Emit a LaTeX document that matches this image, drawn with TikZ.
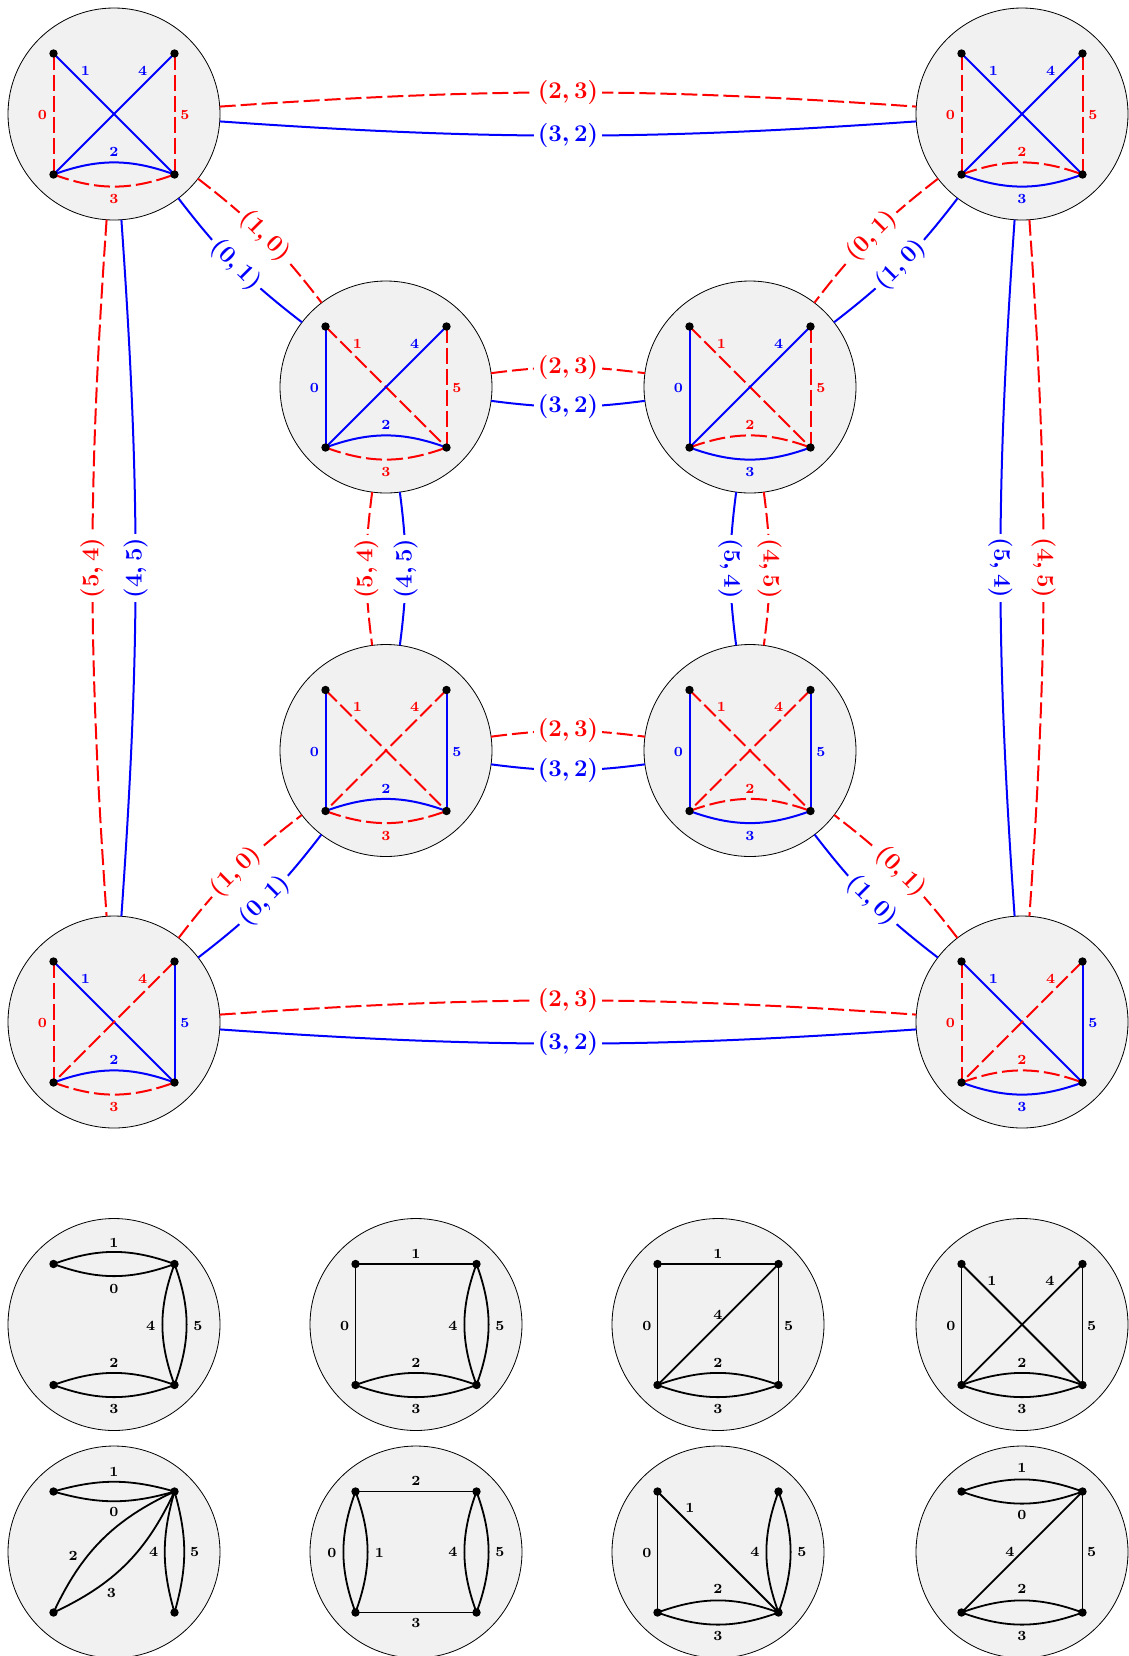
\documentclass[tikz,border=0pt]{standalone}
\usetikzlibrary{calc}
\tikzset{
 gnode/.style={circle, draw=black, line width=0.4pt, fill=black!5.5, minimum size=106pt, inner sep=0pt, outer sep=0pt},
 dot/.style={circle, fill=black, inner sep=0pt, minimum size=4.2pt},
 red edge/.style={red, line width=1pt, dash pattern=on 8pt off 2.5pt},
 blue edge/.style={blue, line width=1pt},
 black edge/.style={black, line width=0.9pt},
 lab/.style={font=\scriptsize\bfseries, inner sep=0pt},
 big/.style={font=\large\boldmath, fill=white, inner sep=2pt, midway},
}
% base circle with four vertex coordinates
\newcommand\gbase[3]{%
 \node[gnode] (#1) at (#2,#3) {};
 \coordinate (#1a) at (#2-60.5,#3-60.5);
 \coordinate (#1b) at (#2+60.5,#3-60.5);
 \coordinate (#1c) at (#2-60.5,#3+60.5);
 \coordinate (#1d) at (#2+60.5,#3+60.5);}
\newcommand\gdots[1]{%
 \foreach \v in {a,b,c,d} {\node[dot] (#1v\v) at (#1\v) {};}}
\newcommand\glab[5][black]{\node[lab,text=#1] (#2-l#5) at ($(#2)+(#3,#4)$) {#5};}
% coloured graph: name, x, y, colours of edges 0,1,4,5,2,3
\newcommand\bigG[9]{%
 \gbase{#1}{#2}{#3}
 \draw[#4 edge] (#1a) -- (#1c);
 \draw[#5 edge] (#1a) -- (#1d);
 \draw[#6 edge] (#1b) -- (#1c);
 \draw[#7 edge] (#1b) -- (#1d);
 \draw[#8 edge] (#1c) to[bend left=20] (#1d);
 \draw[#9 edge] (#1c) to[bend right=20] (#1d);
 \glab[#4]{#1}{-71.7}{1.3}{0}
 \glab[#5]{#1}{-28.5}{-43.5}{1}
 \glab[#6]{#1}{28.7}{-43.5}{4}
 \glab[#7]{#1}{71}{1.3}{5}
 \glab[#8]{#1}{0}{38}{2}
 \glab[#9]{#1}{0}{85}{3}
 \gdots{#1}}
\begin{document}
\begin{tikzpicture}[x=0.5pt,y=-0.5pt]
\useasboundingbox (0,0) rectangle (1129,1656);

% ---------- coloured graphs ----------
\bigG{TL}{114}{114}{red}{blue}{blue}{red}{blue}{red}
\bigG{TR}{1022}{114}{red}{blue}{blue}{red}{red}{blue}
\bigG{ML}{386}{387}{blue}{red}{blue}{red}{blue}{red}
\bigG{MR}{750}{387}{blue}{red}{blue}{red}{red}{blue}
\bigG{NL}{386}{750.5}{blue}{red}{red}{blue}{blue}{red}
\bigG{NR}{750}{750.5}{blue}{red}{red}{blue}{red}{blue}
\bigG{BL}{114}{1022}{red}{blue}{red}{blue}{blue}{red}
\bigG{BR}{1022}{1022}{red}{blue}{red}{blue}{red}{blue}

% ---------- connectors ----------
% outer square
\draw[red edge] (TL) to[bend left=4] node[big,text=red] (c1) {$(2,3)$} (TR);
\draw[blue edge] (TL) to[bend right=4] node[big,text=blue] (c2) {$(3,2)$} (TR);
\draw[red edge] (BL) to[bend left=4] node[big,text=red] (c3) {$(2,3)$} (BR);
\draw[blue edge] (BL) to[bend right=4] node[big,text=blue] (c4) {$(3,2)$} (BR);
\draw[red edge] (TL) to[bend right=4] node[big,text=red,rotate=90] (c5) {$(5,4)$} (BL);
\draw[blue edge] (TL) to[bend left=4] node[big,text=blue,rotate=90] (c6) {$(4,5)$} (BL);
\draw[blue edge] (TR) to[bend right=4] node[big,text=blue,rotate=-90] (c7) {$(5,4)$} (BR);
\draw[red edge] (TR) to[bend left=4] node[big,text=red,rotate=-90] (c8) {$(4,5)$} (BR);
% inner square
\draw[red edge] (ML) to[bend left=7.5] node[big,text=red] (c9) {$(2,3)$} (MR);
\draw[blue edge] (ML) to[bend right=7.5] node[big,text=blue] (c10) {$(3,2)$} (MR);
\draw[red edge] (NL) to[bend left=7.5] node[big,text=red] (c11) {$(2,3)$} (NR);
\draw[blue edge] (NL) to[bend right=7.5] node[big,text=blue] (c12) {$(3,2)$} (NR);
\draw[red edge] (ML) to[bend right=7.5] node[big,text=red,rotate=90] (c13) {$(5,4)$} (NL);
\draw[blue edge] (ML) to[bend left=7.5] node[big,text=blue,rotate=90] (c14) {$(4,5)$} (NL);
\draw[blue edge] (MR) to[bend right=7.5] node[big,text=blue,rotate=-90] (c15) {$(5,4)$} (NR);
\draw[red edge] (MR) to[bend left=7.5] node[big,text=red,rotate=-90] (c16) {$(4,5)$} (NR);
% diagonals
\draw[red edge] (TL) to[bend left=7.5] node[big,text=red,sloped] (c17) {$(1,0)$} (ML);
\draw[blue edge] (TL) to[bend right=7.5] node[big,text=blue,sloped] (c18) {$(0,1)$} (ML);
\draw[red edge] (TR) to[bend right=7.5] node[big,text=red,sloped] (c19) {$(0,1)$} (MR);
\draw[blue edge] (TR) to[bend left=7.5] node[big,text=blue,sloped] (c20) {$(1,0)$} (MR);
\draw[red edge] (BL) to[bend left=7.5] node[big,text=red,sloped] (c21) {$(1,0)$} (NL);
\draw[blue edge] (BL) to[bend right=7.5] node[big,text=blue,sloped] (c22) {$(0,1)$} (NL);
\draw[red edge] (BR) to[bend right=7.5] node[big,text=red,sloped] (c23) {$(0,1)$} (NR);
\draw[blue edge] (BR) to[bend left=7.5] node[big,text=blue,sloped] (c24) {$(1,0)$} (NR);

% ---------- black graphs, row 1 ----------
\gbase{P1}{114}{1324.5}
\draw[black edge] (P1a) to[bend left=20] (P1b);
\draw[black edge] (P1a) to[bend right=20] (P1b);
\draw[black edge] (P1b) to[bend right=20] (P1d);
\draw[black edge] (P1b) to[bend left=20] (P1d);
\draw[black edge] (P1c) to[bend left=20] (P1d);
\draw[black edge] (P1c) to[bend right=20] (P1d);
\glab{P1}{0}{-82}{1}\glab{P1}{0}{-36}{0}\glab{P1}{36.7}{1}{4}\glab{P1}{84}{1}{5}
\glab{P1}{0}{38.8}{2}\glab{P1}{0}{84.5}{3}
\gdots{P1}

\gbase{P2}{416}{1324.5}
\draw[black edge] (P2a) -- (P2b);
\draw[black edge] (P2a) -- (P2c);
\draw[black edge] (P2b) to[bend right=20] (P2d);
\draw[black edge] (P2b) to[bend left=20] (P2d);
\draw[black edge] (P2c) to[bend left=20] (P2d);
\draw[black edge] (P2c) to[bend right=20] (P2d);
\glab{P2}{0}{-71}{1}\glab{P2}{-71.4}{1}{0}\glab{P2}{36.9}{1}{4}\glab{P2}{84}{1}{5}
\glab{P2}{0}{38.8}{2}\glab{P2}{0}{84.5}{3}
\gdots{P2}

\gbase{P3}{718}{1324.5}
\draw[black edge] (P3a) -- (P3b);
\draw[black edge] (P3a) -- (P3c);
\draw[black edge] (P3c) -- (P3b);
\draw[black edge] (P3b) -- (P3d);
\draw[black edge] (P3c) to[bend left=20] (P3d);
\draw[black edge] (P3c) to[bend right=20] (P3d);
\glab{P3}{0}{-71}{1}\glab{P3}{-71}{1}{0}\glab{P3}{0}{-9.5}{4}\glab{P3}{70.6}{1}{5}
\glab{P3}{0}{38.8}{2}\glab{P3}{0}{84.5}{3}
\gdots{P3}

\gbase{P4}{1022}{1324.5}
\draw[black edge] (P4a) -- (P4c);
\draw[black edge] (P4a) -- (P4d);
\draw[black edge] (P4b) -- (P4c);
\draw[black edge] (P4b) -- (P4d);
\draw[black edge] (P4c) to[bend left=20] (P4d);
\draw[black edge] (P4c) to[bend right=20] (P4d);
\glab{P4}{-71}{1}{0}\glab{P4}{-30}{-43.5}{1}\glab{P4}{27.8}{-43.5}{4}\glab{P4}{69.6}{1}{5}
\glab{P4}{0}{38.8}{2}\glab{P4}{0}{84.5}{3}
\gdots{P4}

% ---------- black graphs, row 2 ----------
\gbase{Q1}{114}{1552}
\draw[black edge] (Q1a) to[bend left=16] (Q1b);
\draw[black edge] (Q1a) to[bend right=16] (Q1b);
\draw[black edge] (Q1c) to[bend left=20] (Q1b);
\draw[black edge] (Q1c) to[bend right=20] (Q1b);
\draw[black edge] (Q1b) to[bend right=16] (Q1d);
\draw[black edge] (Q1b) to[bend left=16] (Q1d);
\glab{Q1}{0}{-80}{1}\glab{Q1}{0}{-40}{0}\glab{Q1}{-40.8}{3.5}{2}\glab{Q1}{-2.6}{41}{3}
\glab{Q1}{39.6}{0}{4}\glab{Q1}{80.6}{0}{5}
\gdots{Q1}

\gbase{Q2}{416}{1552}
\draw[black edge] (Q2a) -- (Q2b);
\draw[black edge] (Q2c) -- (Q2d);
\draw[black edge] (Q2a) to[bend right=20] (Q2c);
\draw[black edge] (Q2a) to[bend left=20] (Q2c);
\draw[black edge] (Q2b) to[bend right=20] (Q2d);
\draw[black edge] (Q2b) to[bend left=20] (Q2d);
\glab{Q2}{0}{-71.5}{2}\glab{Q2}{0}{71}{3}\glab{Q2}{-84}{0.5}{0}\glab{Q2}{-36.7}{0.5}{1}
\glab{Q2}{36.9}{0}{4}\glab{Q2}{84}{0}{5}
\gdots{Q2}

\gbase{Q3}{718}{1552}
\draw[black edge] (Q3a) -- (Q3c);
\draw[black edge] (Q3a) -- (Q3d);
\draw[black edge] (Q3b) to[bend right=20] (Q3d);
\draw[black edge] (Q3b) to[bend left=20] (Q3d);
\draw[black edge] (Q3c) to[bend left=20] (Q3d);
\draw[black edge] (Q3c) to[bend right=20] (Q3d);
\glab{Q3}{-71}{0.5}{0}\glab{Q3}{-28}{-44.5}{1}\glab{Q3}{36.8}{0}{4}\glab{Q3}{84}{0}{5}
\glab{Q3}{0}{37}{2}\glab{Q3}{0}{84}{3}
\gdots{Q3}

\gbase{Q4}{1022}{1552}
\draw[black edge] (Q4a) to[bend left=20] (Q4b);
\draw[black edge] (Q4a) to[bend right=20] (Q4b);
\draw[black edge] (Q4c) -- (Q4b);
\draw[black edge] (Q4b) -- (Q4d);
\draw[black edge] (Q4c) to[bend left=20] (Q4d);
\draw[black edge] (Q4c) to[bend right=20] (Q4d);
\glab{Q4}{0}{-84.5}{1}\glab{Q4}{0}{-37}{0}\glab{Q4}{-12}{0}{4}\glab{Q4}{69.6}{0}{5}
\glab{Q4}{0}{37}{2}\glab{Q4}{0}{84}{3}
\gdots{Q4}
\end{tikzpicture}
\end{document}
